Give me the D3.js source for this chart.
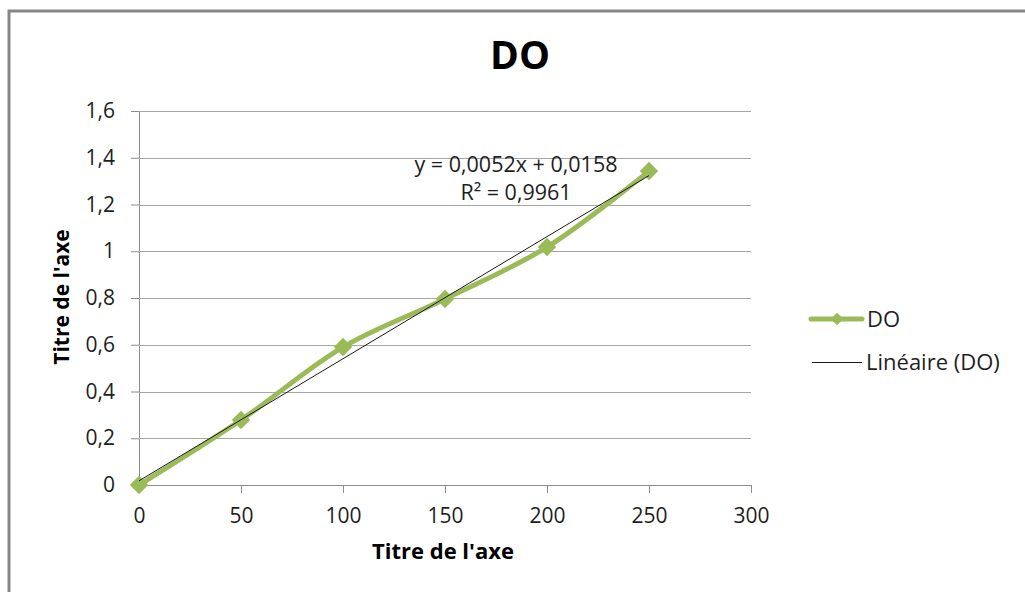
<!DOCTYPE html>
<html>
<head>
<meta charset="utf-8">
<script src="https://cdn.jsdelivr.net/npm/d3@7"></script>
<style>
  body { margin: 0; background: #fff; }
  svg { display: block; font-family: "Open Sans", sans-serif; }
</style>
</head>
<body>
<div id="chart"></div>
<script>
// values
const xValues = [0, 50, 100, 150, 200, 250];
const doValues = [0.0, 0.278, 0.59, 0.796, 1.018, 1.343];
const xTicks = [0, 50, 100, 150, 200, 250, 300];
const yTicks = [0, 0.2, 0.4, 0.6, 0.8, 1.0, 1.2, 1.4, 1.6];
const equationLines = ["y = 0,0052x + 0,0158", "R² = 0,9961"];

const colors = {
    series: "#9bbb59",
    trend: "#1a1a1a",
    grid: "#a6a6a6",
    axis: "#8c8c8c",
    text: "#1e1e1e",
    border: "#878787",
};

const width = 1025;
const height = 592;
const plot = { left: 139, right: 751, top: 111, bottom: 485 };
const font = "'Open Sans', sans-serif";

const fmt = d => d3.format("")(+d.toFixed(1)).replace(".", ",");

const svg = d3.select("#chart")
    .append("svg")
    .attr("width", width)
    .attr("height", height);

// chart frame (only top and left visible)
svg.append("path")
    .attr("d", `M9,${height} L9,11 L${width},11`)
    .attr("fill", "none")
    .attr("stroke", colors.border)
    .attr("stroke-width", 3);

const x = d3.scaleLinear().domain([0, 300]).range([plot.left, plot.right]);
const y = d3.scaleLinear().domain([0, 1.6]).range([plot.bottom, plot.top]);

// gridlines + y axis
const gy = svg.append("g")
    .attr("transform", `translate(${plot.left},0)`)
    .call(d3.axisLeft(y).tickValues(yTicks).tickFormat(fmt).tickSize(8).tickPadding(16))
    .attr("font-family", font)
    .attr("font-size", 21);
gy.select(".domain").attr("stroke", colors.axis);
gy.selectAll(".tick line").attr("stroke", colors.axis);
gy.selectAll(".tick text").attr("fill", colors.text);

svg.append("g")
    .selectAll("line")
    .data(yTicks.filter(d => d > 0))
    .join("line")
    .attr("x1", plot.left)
    .attr("x2", plot.right)
    .attr("y1", d => Math.round(y(d)) + 0.5)
    .attr("y2", d => Math.round(y(d)) + 0.5)
    .attr("stroke", colors.grid)
    .attr("stroke-width", 1.2);

// x axis
const gx = svg.append("g")
    .attr("transform", `translate(0,${plot.bottom})`)
    .call(d3.axisBottom(x).tickValues(xTicks).tickSize(8).tickSizeOuter(8).tickPadding(15))
    .attr("font-family", font)
    .attr("font-size", 21);
gx.select(".domain").attr("stroke", colors.axis);
gx.selectAll(".tick line").attr("stroke", colors.axis);
gx.selectAll(".tick text").attr("fill", colors.text);

// axis titles
svg.append("text")
    .attr("x", 443)
    .attr("y", 559)
    .attr("text-anchor", "middle")
    .attr("font-size", 22)
    .attr("font-weight", 700)
    .attr("fill", "#000")
    .text("Titre de l'axe");

svg.append("text")
    .attr("transform", "translate(69,297) rotate(-90)")
    .attr("text-anchor", "middle")
    .attr("font-size", 21)
    .attr("font-weight", 700)
    .attr("fill", "#000")
    .text("Titre de l'axe");

// title
svg.append("text")
    .attr("x", 520)
    .attr("y", 69)
    .attr("text-anchor", "middle")
    .attr("font-size", 39)
    .attr("font-weight", 700)
    .attr("fill", "#000")
    .text("DO");

const data = xValues.map((v, i) => ({ x: v, y: doValues[i] }));

// series, smoothed line
const line = d3.line()
    .x(d => x(d.x))
    .y(d => y(d.y))
    .curve(d3.curveCatmullRom.alpha(0.5));

svg.append("path")
    .datum(data)
    .attr("d", line)
    .attr("fill", "none")
    .attr("stroke", colors.series)
    .attr("stroke-width", 5)
    .attr("stroke-linejoin", "round")
    .attr("stroke-linecap", "round");

const diamond = d3.symbol().type(d3.symbolSquare).size(170);
svg.append("g")
    .selectAll("path")
    .data(data)
    .join("path")
    .attr("d", diamond)
    .attr("transform", d => `translate(${x(d.x)},${y(d.y)}) rotate(45)`)
    .attr("fill", colors.series);

// linear trend (least squares over the series)
const mx = d3.mean(data, d => d.x);
const my = d3.mean(data, d => d.y);
const slope = d3.sum(data, d => (d.x - mx) * (d.y - my)) / d3.sum(data, d => (d.x - mx) ** 2);
const intercept = my - slope * mx;
const trend = [0, 250].map(v => ({ x: v, y: intercept + slope * v }));

svg.append("path")
    .datum(trend)
    .attr("d", d3.line().x(d => x(d.x)).y(d => y(d.y)))
    .attr("fill", "none")
    .attr("stroke", colors.trend)
    .attr("stroke-width", 1);

// equation label
svg.append("g")
    .selectAll("text")
    .data(equationLines)
    .join("text")
    .attr("x", 516)
    .attr("y", (d, i) => 172 + i * 28)
    .attr("text-anchor", "middle")
    .attr("font-size", 21.5)
    .attr("fill", colors.text)
    .text(d => d);

// legend
const legend = svg.append("g");
legend.append("line")
    .attr("x1", 811).attr("x2", 862)
    .attr("y1", 319).attr("y2", 319)
    .attr("stroke", colors.series)
    .attr("stroke-width", 5)
    .attr("stroke-linecap", "round");
legend.append("path")
    .attr("d", d3.symbol().type(d3.symbolSquare).size(80))
    .attr("transform", "translate(837,319) rotate(45)")
    .attr("fill", colors.series);
legend.append("text")
    .attr("x", 867).attr("y", 327)
    .attr("font-size", 22)
    .attr("fill", colors.text)
    .text("DO");

legend.append("line")
    .attr("x1", 812).attr("x2", 862)
    .attr("y1", 362.5).attr("y2", 362.5)
    .attr("stroke", colors.trend)
    .attr("stroke-width", 1);
legend.append("text")
    .attr("x", 866).attr("y", 370)
    .attr("font-size", 22)
    .attr("fill", colors.text)
    .text("Linéaire (DO)");
</script>
</body>
</html>
